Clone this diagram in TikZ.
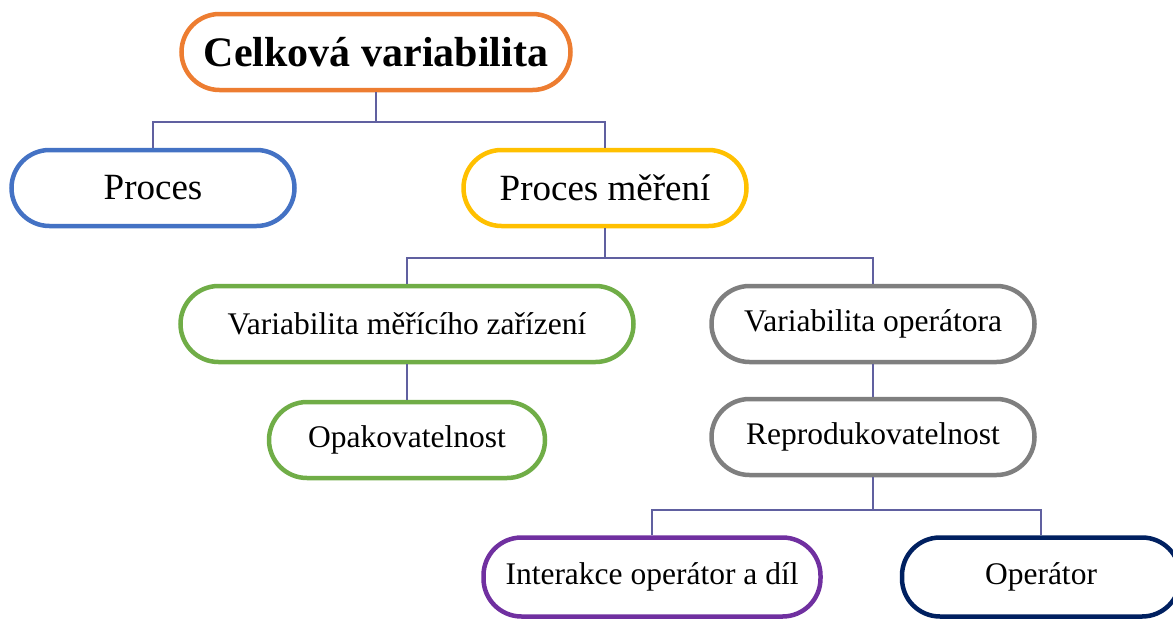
\documentclass[tikz,border=0pt]{standalone}
\usepackage{fontspec}
\setmainfont{Liberation Serif}
\usepackage{tikz}
\usetikzlibrary{positioning,calc}
\definecolor{toporange}{RGB}{237,125,49}
\definecolor{procblue}{RGB}{68,114,196}
\definecolor{measgold}{RGB}{255,192,0}
\definecolor{gaugegreen}{RGB}{112,173,71}
\definecolor{opergray}{RGB}{127,127,127}
\definecolor{interpurple}{RGB}{112,48,160}
\definecolor{opnavy}{RGB}{0,32,96}
\definecolor{linkslate}{RGB}{96,96,160}

\begin{document}
\begin{tikzpicture}[x=1pt,y=-1pt,
box/.style={draw,line width=4.5pt,rounded corners=38pt,minimum height=76pt,fill=white,inner sep=0pt,
  font=\fontsize{31.5}{36}\selectfont},
link/.style={linkslate,line width=1.8pt}]
\useasboundingbox (0,0) rectangle (1173,619);
\node[box,draw=toporange,minimum width=389pt,font=\fontsize{42}{48}\selectfont\bfseries] (total) at (376,52) {Celková variabilita};
\node[box,draw=procblue,minimum width=283pt,font=\fontsize{37}{42}\selectfont] (proc) at (153,188) {Proces};
\node[box,draw=measgold,minimum width=283pt,font=\fontsize{37}{42}\selectfont] (meas) at (605,188) {Proces měření};
\node[box,draw=gaugegreen,minimum width=453pt] (gauge) at (407,324) {Variabilita měřícího zařízení};
\node[box,draw=opergray,minimum width=323pt] (oper) at (873,324) {Variabilita operátora};
\node[box,draw=gaugegreen,minimum width=276pt] (repeat) at (407,440) {Opakovatelnost};
\node[box,draw=opergray,minimum width=323pt] (reprod) at (873,437) {Reprodukovatelnost};
\node[box,draw=interpurple,minimum width=337pt,minimum height=79pt] (inter) at (652,577) {Interakce operátor a díl};
\node[box,draw=opnavy,minimum width=278pt,minimum height=79pt] (op) at (1041,577) {Operátor};
\coordinate (bustop) at (376,122);
\coordinate (busmeas) at (605,258);
\coordinate (busrep) at (873,510);
\draw[link] (total.south) -- (bustop);
\draw[link] (proc.north) |- (bustop) -| (meas.north);
\draw[link] (meas.south) -- (busmeas);
\draw[link] (gauge.north) |- (busmeas) -| (oper.north);
\draw[link] (gauge.south) -- (repeat.north);
\draw[link] (oper.south) -- (reprod.north);
\draw[link] (reprod.south) -- (busrep);
\draw[link] (inter.north) |- (busrep) -| (op.north);
\end{tikzpicture}
\end{document}
